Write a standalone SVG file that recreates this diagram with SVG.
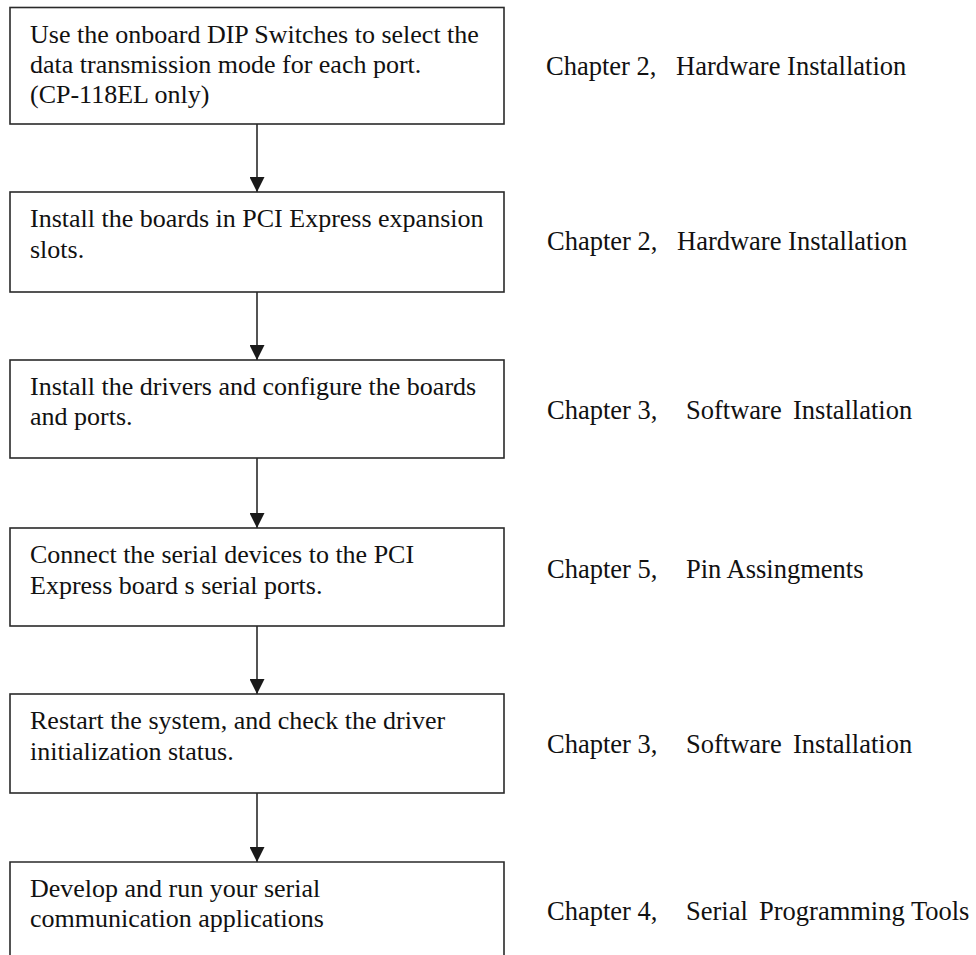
<svg xmlns="http://www.w3.org/2000/svg" width="976" height="955" viewBox="0 0 976 955">
<style>
.box{fill:#fff;stroke:#2a2a2a;stroke-width:1.6}
.t{font-family:"Liberation Serif","Times New Roman",serif;font-size:26px;fill:#111}
.lbl{font-family:"Liberation Serif","Times New Roman",serif;font-size:26.5px;fill:#111}
.conn{stroke:#2a2a2a;stroke-width:1.6;fill:none}
</style>
<defs>
<marker id="ah" markerWidth="15" markerHeight="15" refX="15" refY="7.5" orient="auto" markerUnits="userSpaceOnUse">
<path d="M0,0 L15,7.5 L0,15 Z" fill="#1a1a1a"/>
</marker>
</defs>
<rect width="976" height="955" fill="#fff"/>
<g id="connectors">
<line class="conn" x1="257" y1="124" x2="257" y2="192" marker-end="url(#ah)"/>
<line class="conn" x1="257" y1="292" x2="257" y2="360" marker-end="url(#ah)"/>
<line class="conn" x1="257" y1="458" x2="257" y2="528" marker-end="url(#ah)"/>
<line class="conn" x1="257" y1="626" x2="257" y2="694" marker-end="url(#ah)"/>
<line class="conn" x1="257" y1="793" x2="257" y2="862" marker-end="url(#ah)"/>
</g>
<g id="step1">
<rect class="box" x="10" y="7.5" width="494" height="116.5"/>
<text class="t" x="30" y="43">Use the onboard DIP Switches to select the</text>
<text class="t" x="30" y="73">data transmission mode for each port.</text>
<text class="t" x="30" y="103">(CP-118EL only)</text>
</g>
<g id="step2">
<rect class="box" x="10" y="192" width="494" height="100"/>
<text class="t" x="30" y="227">Install the boards in PCI Express expansion</text>
<text class="t" x="30" y="258">slots.</text>
</g>
<g id="step3">
<rect class="box" x="10" y="360" width="494" height="98"/>
<text class="t" x="30" y="395">Install the drivers and configure the boards</text>
<text class="t" x="30" y="425">and ports.</text>
</g>
<g id="step4">
<rect class="box" x="10" y="528" width="494" height="98"/>
<text class="t" x="30" y="563">Connect the serial devices to the PCI</text>
<text class="t" x="30" y="594">Express board s serial ports.</text>
</g>
<g id="step5">
<rect class="box" x="10" y="694" width="494" height="99"/>
<text class="t" x="30" y="729">Restart the system, and check the driver</text>
<text class="t" x="30" y="760">initialization status.</text>
</g>
<g id="step6">
<path class="box" d="M10,960 L10,862 L504,862 L504,960"/>
<text class="t" x="30" y="897">Develop and run your serial</text>
<text class="t" x="30" y="927">communication applications</text>
</g>
<g id="labels">
<text class="lbl" y="75"><tspan x="546">Chapter 2,</tspan><tspan x="676">Hardware Installation</tspan></text>
<text class="lbl" y="250"><tspan x="547">Chapter 2,</tspan><tspan x="677">Hardware Installation</tspan></text>
<text class="lbl" y="419"><tspan x="547">Chapter 3,</tspan><tspan x="686">Software</tspan><tspan x="793">Installation</tspan></text>
<text class="lbl" y="578"><tspan x="547">Chapter 5,</tspan><tspan x="686">Pin Assingments</tspan></text>
<text class="lbl" y="753"><tspan x="547">Chapter 3,</tspan><tspan x="686">Software</tspan><tspan x="793">Installation</tspan></text>
<text class="lbl" y="920"><tspan x="547">Chapter 4,</tspan><tspan x="686">Serial</tspan><tspan x="759">Programming Tools</tspan></text>
</g>
</svg>
